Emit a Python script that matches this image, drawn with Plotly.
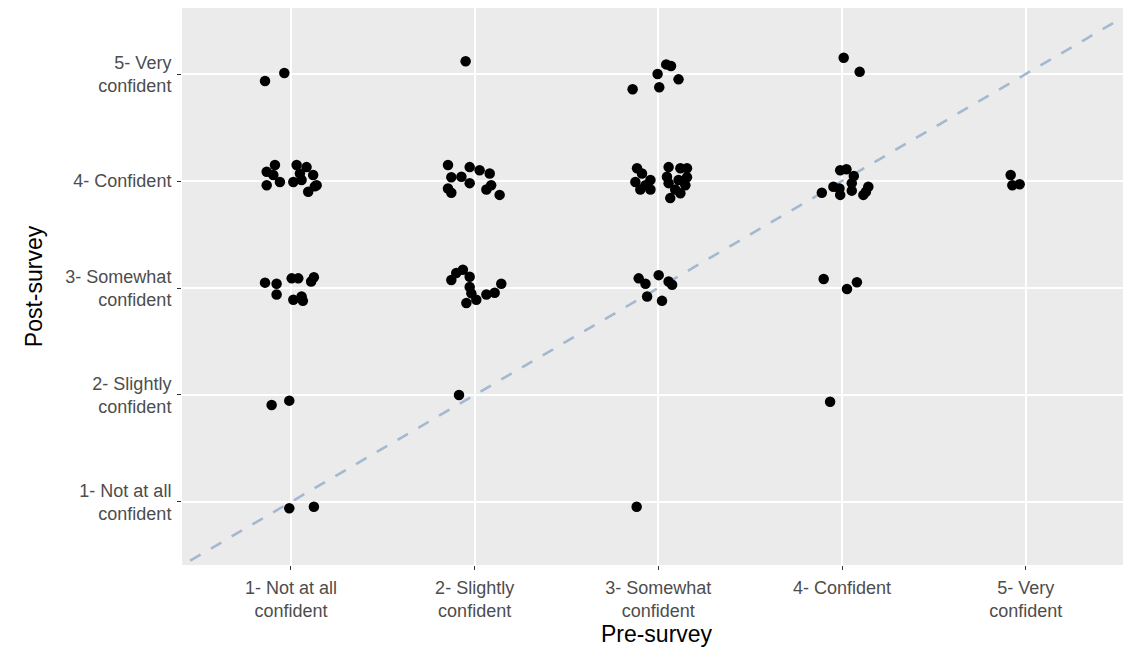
import plotly.graph_objects as go

# Tick labels
levels = [1, 2, 3, 4, 5]
x_labels = ["1- Not at all<br>confident", "2- Slightly<br>confident", "3- Somewhat<br>confident",
            "4- Confident", "5- Very<br>confident"]
y_labels = ["1- Not at all<br>confident", "2- Slightly<br>confident", "3- Somewhat<br>confident",
            "4- Confident", "5- Very<br>confident"]

# Jittered responses (pre-survey score, post-survey score)
pre_1 = [0.913, 0.868, 0.904, 0.94, 0.868, 1.031, 1.085, 1.049, 1.121, 1.013, 1.058, 1.14, 1.094, 1.13,
         0.859, 0.922, 0.922, 1.004, 1.04, 1.125, 1.11, 1.013, 1.058, 1.065,
         0.859, 0.964, 0.895, 0.991, 0.991, 1.125]
post_1 = [4.15, 4.087, 4.056, 3.99, 3.96, 4.15, 4.13, 4.07, 4.056, 3.99, 4.01, 3.96, 3.90, 3.95,
          3.05, 3.04, 2.94, 3.09, 3.09, 3.10, 3.06, 2.89, 2.92, 2.88,
          4.935, 5.01, 1.907, 1.947, 0.941, 0.956]

pre_2 = [1.855, 1.873, 1.873, 1.973, 2.027, 2.082, 1.928, 1.973, 2.064, 2.09, 2.136, 1.855,
         1.873, 1.90, 1.936, 1.973, 1.973, 1.982, 1.955, 2.009, 2.064, 2.109, 2.145,
         1.915, 1.951]
post_2 = [4.15, 4.035, 3.89, 4.13, 4.10, 4.07, 4.04, 3.98, 3.92, 3.96, 3.87, 3.93,
          3.075, 3.14, 3.17, 3.105, 3.01, 2.95, 2.86, 2.89, 2.94, 2.955, 3.04,
          2.0, 5.12]

pre_3 = [2.884, 2.911, 2.875, 2.957, 2.902, 2.957, 2.93, 3.056, 3.12, 3.156, 3.047, 3.156, 3.11,
         3.056, 3.147, 3.092, 3.065, 3.12,
         2.893, 2.93, 3.002, 3.056, 3.075, 2.939, 3.02,
         2.86, 2.996, 3.043, 3.069, 3.11, 3.005, 2.882]
post_3 = [4.12, 4.07, 3.99, 4.01, 3.92, 3.92, 3.96, 4.13, 4.12, 4.12, 4.04, 4.035, 4.01,
          3.98, 3.96, 3.92, 3.84, 3.885,
          3.09, 3.04, 3.12, 3.06, 3.03, 2.92, 2.88,
          4.857, 5.0, 5.09, 5.075, 4.95, 4.876, 0.956]

pre_4 = [3.99, 4.024, 4.064, 3.953, 3.89, 3.986, 3.99, 4.053, 4.053, 4.116, 4.143, 4.13,
         3.9, 4.027, 4.081, 3.935, 4.009, 4.096]
post_4 = [4.10, 4.11, 4.047, 3.947, 3.89, 3.93, 3.87, 3.98, 3.91, 3.87, 3.947, 3.9,
          3.084, 2.99, 3.053, 1.937, 5.152, 5.02]

pre_5 = [4.918, 4.927, 4.967]
post_5 = [4.056, 3.96, 3.97]

pre = pre_1 + pre_2 + pre_3 + pre_4 + pre_5
post = post_1 + post_2 + post_3 + post_4 + post_5

# identity reference line y = x
ident = [0, 6]

FONT = "Liberation Sans, Arial, sans-serif"

fig = go.Figure()
fig.add_trace(go.Scatter(x=ident, y=ident, mode="lines",
                         line=dict(color="#A4B8D2", width=2.6, dash="12px,12px"),
                         hoverinfo="skip", showlegend=False))
fig.add_trace(go.Scatter(x=pre, y=post, mode="markers",
                         marker=dict(color="black", size=10.5, line=dict(width=0)),
                         showlegend=False))

axis_common = dict(
    showgrid=True, gridcolor="white", gridwidth=2,
    zeroline=False, showline=False,
    ticks="outside", ticklen=4, tickwidth=1, tickcolor="#333333",
    tickfont=dict(family=FONT, size=18, color="#4D4D4D"),
    tickvals=levels, ticklabelstandoff=2,
)

fig.update_xaxes(range=[0.407, 5.573], ticktext=x_labels,
                 title=dict(text="Pre-survey", font=dict(family=FONT, size=23, color="black"), standoff=0),
                 **axis_common)
fig.update_yaxes(range=[0.411, 5.617], ticktext=y_labels,
                 title=dict(text="Post-survey", font=dict(family=FONT, size=23, color="black"), standoff=16),
                 **axis_common)

fig.update_layout(
    width=1123, height=642,
    margin=dict(l=174, r=0, t=0, b=85, autoexpand=False),
    plot_bgcolor="#EBEBEB", paper_bgcolor="white",
    font=dict(family=FONT),
)

fig.write_html("out.html")
